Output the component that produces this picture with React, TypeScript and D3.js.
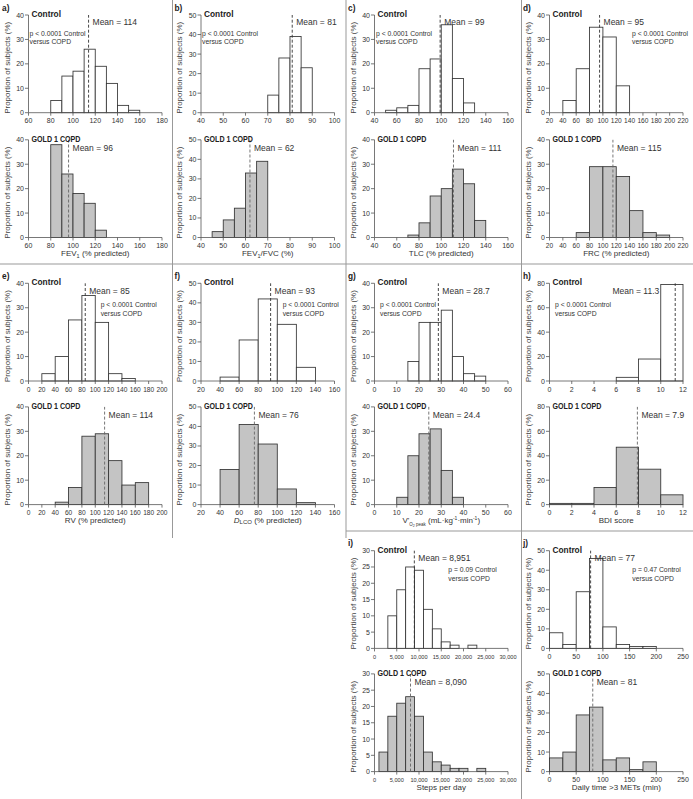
import React from 'react';
import * as d3 from 'd3';

const FONT = '"Liberation Sans", Arial, Helvetica, sans-serif';

// ---------- data ----------
// a) FEV1 % predicted
const FEV1_X = [60, 80, 100, 120, 140, 160, 180];
const FEV1_Y = [0, 10, 20, 30, 40];
const FEV1_CTRL_EDGES = [80, 90, 100, 110, 120, 130, 140, 150, 160];
const FEV1_CTRL = [5, 15, 17, 26, 19, 12, 3, 1];
const FEV1_COPD_EDGES = [80, 90, 100, 110, 120, 130];
const FEV1_COPD = [38, 26, 18, 14, 3];
// b) FEV1/FVC
const RATIO_X = [40, 50, 60, 70, 80, 90, 100];
const RATIO_Y = [0, 10, 20, 30, 40, 50];
const RATIO_CTRL_EDGES = [70, 75, 80, 85, 90];
const RATIO_CTRL = [9, 28, 39, 23];
const RATIO_COPD_EDGES = [45, 50, 55, 60, 65, 70];
const RATIO_COPD = [3, 9, 15, 33, 39];
// c) TLC
const TLC_X = [40, 60, 80, 100, 120, 140, 160];
const TLC_Y = [0, 10, 20, 30, 40];
const TLC_CTRL_EDGES = [50, 60, 70, 80, 90, 100, 110, 120, 130];
const TLC_CTRL = [1, 2, 3, 18, 22, 36, 14, 4];
const TLC_COPD_EDGES = [70, 80, 90, 100, 110, 120, 130, 140];
const TLC_COPD = [1, 6, 17, 20, 28, 22, 7];
// d) FRC
const FRC_X = [20, 40, 60, 80, 100, 120, 140, 160, 180, 200, 220];
const FRC_Y = [0, 10, 20, 30, 40];
const FRC_CTRL_EDGES = [40, 60, 80, 100, 120, 140];
const FRC_CTRL = [5, 18, 35, 31, 11];
const FRC_COPD_EDGES = [60, 80, 100, 120, 140, 160, 180, 200];
const FRC_COPD = [2, 29, 29, 25, 11, 2, 1];
// e) RV
const RV_X = [0, 20, 40, 60, 80, 100, 120, 140, 160, 180, 200];
const RV_Y = [0, 10, 20, 30, 40];
const RV_CTRL_EDGES = [20, 40, 60, 80, 100, 120, 140, 160];
const RV_CTRL = [3, 10, 25, 35, 24, 3, 1];
const RV_COPD_EDGES = [40, 60, 80, 100, 120, 140, 160, 180];
const RV_COPD = [1, 7, 28, 29, 18, 8, 9];
// f) DLCO
const DLCO_X = [20, 40, 60, 80, 100, 120, 140, 160];
const DLCO_Y = [0, 10, 20, 30, 40, 50];
const DLCO_EDGES = [40, 60, 80, 100, 120, 140];
const DLCO_CTRL = [2, 21, 42, 29, 7];
const DLCO_COPD = [18, 41, 31, 8, 1];
// g) VO2 peak
const VO2_X = [0, 10, 20, 30, 40, 50, 60];
const VO2_Y = [0, 10, 20, 30, 40];
const VO2_CTRL_EDGES = [15, 20, 25, 30, 35, 40, 45, 50];
const VO2_CTRL = [8, 24, 24, 29, 10, 3, 2];
const VO2_COPD_EDGES = [10, 15, 20, 25, 30, 35, 40];
const VO2_COPD = [3, 20, 29, 31, 14, 3];
// h) BDI
const BDI_X = [0, 2, 4, 6, 8, 10, 12];
const BDI_Y = [0, 20, 40, 60, 80];
const BDI_CTRL_EDGES = [6, 8, 10, 12];
const BDI_CTRL = [3, 18, 79];
const BDI_COPD_EDGES = [0, 2, 4, 6, 8, 10, 12];
const BDI_COPD = [1, 1, 14, 47, 29, 8];
// i) Steps per day
const STEPS_X = [0, 5000, 10000, 15000, 20000, 25000, 30000];
const STEPS_Y = [0, 5, 10, 15, 20, 25, 30];
const STEPS_CTRL_EDGES = [3000, 5000, 7000, 9000, 11000, 13000, 15000, 17000, 19000, 21000, 23000];
const STEPS_CTRL = [10, 18, 25, 24, 12, 6, 2, 1, 0, 1];
const STEPS_COPD_EDGES = [1000, 3000, 5000, 7000, 9000, 11000, 13000, 15000, 17000, 19000, 21000, 23000, 25000];
const STEPS_COPD = [6, 17, 21, 23, 17, 6, 3, 2, 1, 1, 0, 1];
// j) Daily time > 3 METs
const MET_X = [0, 50, 100, 150, 200, 250];
const MET_Y = [0, 10, 20, 30, 40, 50];
const MET_EDGES = [0, 25, 50, 75, 100, 125, 150, 175, 200];
const MET_CTRL = [8, 2, 29, 46, 11, 2, 1, 1];
const MET_COPD = [7, 10, 29, 33, 6, 7, 1, 5];

// ---------- layout ----------
const COLS = [0, 172.5, 346, 521];
const ROWS = [15, 283.3, 550.7];
const GAPS = [124.8, 123.6, 123.2];
const PH = 97.7;
const AX0 = 28.5;
const AX1 = 162;

type Sub = { edges: number[]; vals: number[]; mean: number; label: string; end?: boolean };
type Cfg = {
  id: string; col: number; row: number; xd: [number, number]; xt: number[]; yt: number[];
  fmt?: (v: number) => string; tfs?: number; ctrl: Sub; copd: Sub; p: string; pdx: number; title: React.ReactNode;
};

const comma = d3.format(',');

const panels: Cfg[] = [
  { id: 'a', col: 0, row: 0, xd: [60, 180], xt: FEV1_X, yt: FEV1_Y,
    ctrl: { edges: FEV1_CTRL_EDGES, vals: FEV1_CTRL, mean: 114, label: 'Mean = 114' },
    copd: { edges: FEV1_COPD_EDGES, vals: FEV1_COPD, mean: 96, label: 'Mean = 96' },
    p: 'p < 0.0001 Control', pdx: 29.5,
    title: <>FEV<tspan dy={2} fontSize={5.5}>1</tspan><tspan dy={-2}> (% predicted)</tspan></> },
  { id: 'b', col: 1, row: 0, xd: [40, 100], xt: RATIO_X, yt: RATIO_Y,
    ctrl: { edges: RATIO_CTRL_EDGES, vals: RATIO_CTRL, mean: 81, label: 'Mean = 81' },
    copd: { edges: RATIO_COPD_EDGES, vals: RATIO_COPD, mean: 62, label: 'Mean = 62' },
    p: 'p < 0.0001 Control', pdx: 29.5,
    title: <>FEV<tspan dy={2} fontSize={5.5}>1</tspan><tspan dy={-2}>/FVC (%)</tspan></> },
  { id: 'c', col: 2, row: 0, xd: [40, 160], xt: TLC_X, yt: TLC_Y,
    ctrl: { edges: TLC_CTRL_EDGES, vals: TLC_CTRL, mean: 99, label: 'Mean = 99' },
    copd: { edges: TLC_COPD_EDGES, vals: TLC_COPD, mean: 111, label: 'Mean = 111' },
    p: 'p < 0.0001 Control', pdx: 30, title: 'TLC (% predicted)' },
  { id: 'd', col: 3, row: 0, xd: [20, 220], xt: FRC_X, yt: FRC_Y, tfs: 6.6,
    ctrl: { edges: FRC_CTRL_EDGES, vals: FRC_CTRL, mean: 95, label: 'Mean = 95' },
    copd: { edges: FRC_COPD_EDGES, vals: FRC_COPD, mean: 115, label: 'Mean = 115' },
    p: 'p < 0.0001 Control', pdx: 111, title: 'FRC (% predicted)' },
  { id: 'e', col: 0, row: 1, xd: [0, 200], xt: RV_X, yt: RV_Y, tfs: 6.6,
    ctrl: { edges: RV_CTRL_EDGES, vals: RV_CTRL, mean: 85, label: 'Mean = 85' },
    copd: { edges: RV_COPD_EDGES, vals: RV_COPD, mean: 114, label: 'Mean = 114' },
    p: 'p < 0.0001 Control', pdx: 100.7, title: 'RV (% predicted)' },
  { id: 'f', col: 1, row: 1, xd: [20, 160], xt: DLCO_X, yt: DLCO_Y,
    ctrl: { edges: DLCO_EDGES, vals: DLCO_CTRL, mean: 93, label: 'Mean = 93' },
    copd: { edges: DLCO_EDGES, vals: DLCO_COPD, mean: 76, label: 'Mean = 76' },
    p: 'p < 0.0001 Control', pdx: 110.2,
    title: <><tspan fontStyle="italic">D</tspan><tspan fontSize={6} dy={0.8}>LCO</tspan><tspan dy={-0.8}> (% predicted)</tspan></> },
  { id: 'g', col: 2, row: 1, xd: [0, 60], xt: VO2_X, yt: VO2_Y,
    ctrl: { edges: VO2_CTRL_EDGES, vals: VO2_CTRL, mean: 28.7, label: 'Mean = 28.7' },
    copd: { edges: VO2_COPD_EDGES, vals: VO2_COPD, mean: 24.4, label: 'Mean = 24.4' },
    p: 'p < 0.0001 Control', pdx: 34,
    title: <>V'<tspan dy={2.5} fontSize={4.5}>O</tspan><tspan dy={1} fontSize={3.5}>2</tspan><tspan dy={-1} fontSize={4.5}> peak</tspan><tspan dy={-2.5}> (mL·kg</tspan><tspan dy={-3} fontSize={5}>-1</tspan><tspan dy={3}>·min</tspan><tspan dy={-3} fontSize={5}>-1</tspan><tspan dy={3}>)</tspan></> },
  { id: 'h', col: 3, row: 1, xd: [0, 12], xt: BDI_X, yt: BDI_Y,
    ctrl: { edges: BDI_CTRL_EDGES, vals: BDI_CTRL, mean: 11.3, label: 'Mean = 11.3', end: true },
    copd: { edges: BDI_COPD_EDGES, vals: BDI_COPD, mean: 7.9, label: 'Mean = 7.9' },
    p: 'p < 0.0001 Control', pdx: 34, title: 'BDI score' },
  { id: 'i', col: 2, row: 2, xd: [0, 30000], xt: STEPS_X, yt: STEPS_Y, fmt: (v) => comma(v), tfs: 5.6,
    ctrl: { edges: STEPS_CTRL_EDGES, vals: STEPS_CTRL, mean: 8951, label: 'Mean = 8,951' },
    copd: { edges: STEPS_COPD_EDGES, vals: STEPS_COPD, mean: 8090, label: 'Mean = 8,090' },
    p: 'p = 0.09 Control', pdx: 102.3, title: 'Steps per day' },
  { id: 'j', col: 3, row: 2, xd: [0, 250], xt: MET_X, yt: MET_Y,
    ctrl: { edges: MET_EDGES, vals: MET_CTRL, mean: 77, label: 'Mean = 77' },
    copd: { edges: MET_EDGES, vals: MET_COPD, mean: 81, label: 'Mean = 81' },
    p: 'p = 0.47 Control', pdx: 111.3, title: 'Daily time >3 METs (min)' },
];

const AXC = '#555';
const BAR_STROKE = '#333';
const GRAY = '#c4c4c4';
const TXT = '#333';

function Hist(props: { cfg: Cfg; L: number; top: number; sub: Sub; copd: boolean }) {
  const { cfg, L, top, sub, copd } = props;
  const y0 = top + PH;
  const x = d3.scaleLinear().domain(cfg.xd).range([L + AX0, L + AX1]);
  const ymax = cfg.yt[cfg.yt.length - 1];
  const y = d3.scaleLinear().domain([0, ymax]).range([y0, top]);
  const fmt = cfg.fmt || ((v: number) => String(v));
  const mx = x(sub.mean);
  const bars = sub.vals.map((v, i) => ({ x0: sub.edges[i], x1: sub.edges[i + 1], v }));
  const tfs = cfg.tfs || 7;
  return (
    <g>
      {/* y axis */}
      <line x1={L + AX0} x2={L + AX0} y1={y0} y2={top} stroke={AXC} strokeWidth={0.8} />
      {cfg.yt.map((t) => (
        <g key={'y' + t}>
          <line x1={L + AX0 - 3.5} x2={L + AX0} y1={y(t)} y2={y(t)} stroke={AXC} strokeWidth={0.8} />
          <text x={L + AX0 - 4.5} y={y(t) + 2.5} fontSize={7} textAnchor="end" fill={TXT}>{t}</text>
        </g>
      ))}
      <text transform={`translate(${L + 9.5},${(top + y0) / 2 + 4}) rotate(-90)`} fontSize={8} textAnchor="middle" fill="#444">
        Proportion of subjects (%)
      </text>
      {/* bars */}
      {bars.filter((b) => b.v > 0).map((b, i) => (
        <rect key={'b' + i} x={x(b.x0)} y={y(b.v)} width={x(b.x1) - x(b.x0)} height={y0 - y(b.v)}
          fill={copd ? GRAY : '#fff'} stroke={BAR_STROKE} strokeWidth={0.85} />
      ))}
      {/* x axis */}
      <line x1={L + AX0} x2={L + AX1} y1={y0} y2={y0} stroke={AXC} strokeWidth={0.8} />
      {cfg.xt.map((t) => (
        <g key={'x' + t}>
          <line x1={x(t)} x2={x(t)} y1={y0} y2={y0 + 3} stroke={AXC} strokeWidth={0.8} />
          <text x={x(t)} y={y0 + 10.5} fontSize={tfs} textAnchor="middle" fill={TXT}>{fmt(t)}</text>
        </g>
      ))}
      {/* mean */}
      <line x1={mx} x2={mx} y1={y0} y2={top} stroke={copd ? '#666' : '#333'} strokeWidth={0.9} strokeDasharray="3,2" />
      <text x={sub.end ? x(10) - 1.5 : mx + 4} y={top + (copd ? 11 : 10.3)} fontSize={8.5}
        textAnchor={sub.end ? 'end' : 'start'} fill={TXT}>{sub.label}</text>
      {copd ? (
        <text x={L + AX0 + 3} y={top + 2} fontSize={8.6} fontWeight="bold" fill="#222" textLength={49} lengthAdjust="spacingAndGlyphs">GOLD 1 COPD</text>
      ) : (
        <text x={L + AX0 + 3} y={top + 2} fontSize={8.3} fontWeight="bold" fill="#222">Control</text>
      )}
    </g>
  );
}

function Panel({ cfg }: { cfg: Cfg }) {
  const L = COLS[cfg.col];
  const R = ROWS[cfg.row];
  const topB = R + GAPS[cfg.row];
  const pTop = cfg.row === 0 ? R + 20.5 : cfg.row === 1 ? R + 23.5 : R + 21.5;
  return (
    <g>
      <text x={L + 2} y={R - 4.5} fontSize={8.3} fontWeight="bold" fill="#222">{cfg.id})</text>
      <Hist cfg={cfg} L={L} top={R} sub={cfg.ctrl} copd={false} />
      <text x={L + cfg.pdx} y={pTop} fontSize={6.8} fill={TXT}>{cfg.p}</text>
      <text x={L + cfg.pdx} y={pTop + 8.8} fontSize={6.8} fill={TXT}>versus COPD</text>
      <Hist cfg={cfg} L={L} top={topB} sub={cfg.copd} copd={true} />
      <text x={L + (AX0 + AX1) / 2} y={topB + PH + 18.5} fontSize={8} textAnchor="middle" fill={TXT}>{cfg.title}</text>
    </g>
  );
}

export default function App() {
  const DIV = '#999';
  return (
    <svg width={693} height={799} style={{ position: 'absolute', left: 0, top: 0, background: '#fff' }}
      fontFamily={FONT}>
      <rect x={0} y={0} width={693} height={799} fill="#fff" />
      {/* dividers */}
      <line x1={172.5} x2={172.5} y1={0} y2={538} stroke={DIV} strokeWidth={1} />
      <line x1={346} x2={346} y1={0} y2={538} stroke={DIV} strokeWidth={1} />
      <line x1={521.5} x2={521.5} y1={0} y2={799} stroke={DIV} strokeWidth={1} />
      <line x1={0} x2={693} y1={264} y2={264} stroke={DIV} strokeWidth={1} />
      <line x1={346} x2={693} y1={531} y2={531} stroke={DIV} strokeWidth={1} />
      {panels.map((p) => <Panel key={p.id} cfg={p} />)}
    </svg>
  );
}
